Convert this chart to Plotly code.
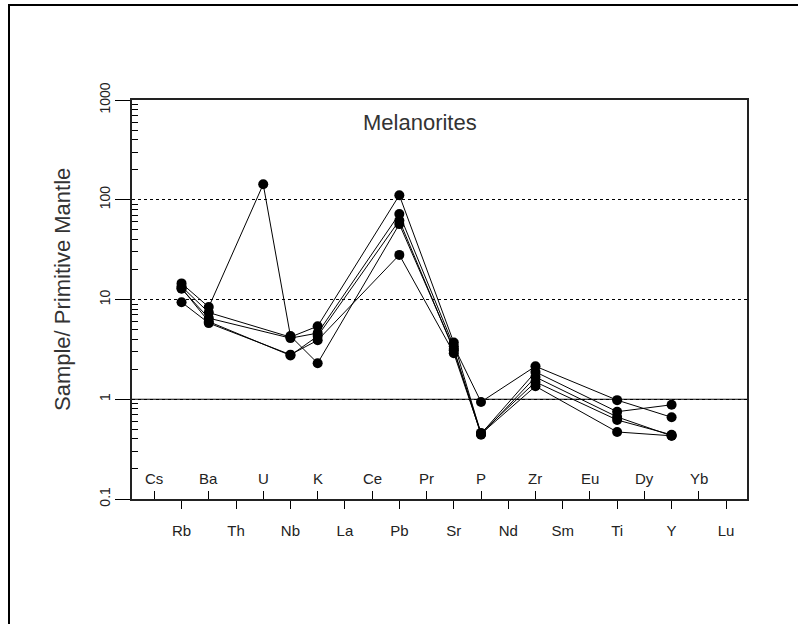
import plotly.graph_objects as go

# Element order along the spider-diagram axis
elements = ["Cs", "Rb", "Ba", "Th", "U", "Nb", "K", "La", "Ce", "Pb", "Pr",
            "Sr", "P", "Nd", "Zr", "Sm", "Eu", "Ti", "Dy", "Y", "Yb", "Lu"]

# Elements that carry analyses
plotted = ["Rb", "Ba", "U", "Nb", "K", "Pb", "Sr", "P", "Zr", "Ti", "Y"]

# Primitive-mantle normalised values (None = not analysed)
sample_1 = [14.5, 8.4, 143, 4.3, 2.3, 57, 3.2, 0.44, 1.67, 0.665, 0.43]
sample_2 = [13.5, 7.4, None, 4.2, 5.4, 111, 3.7, 0.45, 1.88, 0.75, 0.88]
sample_3 = [12.8, 6.5, None, 4.1, 4.6, 72, 3.4, 0.94, 2.14, 0.98, 0.66]
sample_4 = [9.4, 5.8, None, 2.8, 3.9, 28, 2.9, 0.45, 1.35, 0.47, 0.43]
sample_5 = [13.0, 6.0, None, 2.75, 4.3, 62, 3.1, 0.46, 1.49, 0.62, 0.44]
samples = [sample_1, sample_2, sample_3, sample_4, sample_5]

# Labels alternate between a row inside the frame and a row below the axis
upper_row = elements[0::2]
lower_row = elements[1::2]

y_ticks = [0.1, 1, 10, 100, 1000]
y_ticktext = ["0.1", "1", "10", "100", "1000"]
y_minor = [m * 10 ** e for e in range(-1, 3) for m in range(2, 10)]

pos = {el: i for i, el in enumerate(elements)}

fig = go.Figure()
for vals in samples:
    xs = [pos[el] for el, v in zip(plotted, vals) if v is not None]
    ys = [v for v in vals if v is not None]
    fig.add_trace(go.Scatter(
        x=xs, y=ys, mode="lines+markers",
        line=dict(color="black", width=1),
        marker=dict(color="black", size=10, symbol="circle"),
        showlegend=False, hoverinfo="skip",
    ))

W, H = 798, 624
L, R, T, B = 132, 51, 100, 125
pw, ph = W - L - R, H - T - B

label_font = dict(family="Liberation Sans, Arial, sans-serif", size=15, color="#222")

annotations = [
    dict(text=el, x=pos[el], xref="x", y=(499 - 478) / ph, yref="paper",
         showarrow=False, font=label_font, xanchor="center", yanchor="middle")
    for el in upper_row
]
annotations.append(dict(
    text="Melanorites", x=pos["Ce"] + 1.75, xref="x", y=1 - (122 - T) / ph, yref="paper",
    showarrow=False, xanchor="center", yanchor="middle",
    font=dict(family="Liberation Sans, Arial, sans-serif", size=22, color="#333"),
))
annotations.append(dict(
    text="Sample/ Primitive Mantle", textangle=-90,
    x=(62 - L) / pw, xref="paper", y=1 - (290 - T) / ph, yref="paper",
    showarrow=False, xanchor="center", yanchor="middle",
    font=dict(family="Liberation Sans, Arial, sans-serif", size=22, color="#333"),
))

shapes = [
    # solid reference line at unity
    dict(type="line", xref="paper", x0=0, x1=1, yref="y", y0=1, y1=1,
         line=dict(color="black", width=1.2)),
    # outer page frame
    dict(type="rect", xref="paper", yref="paper",
         x0=(9 - L) / pw, x1=1.5, y0=-1.0, y1=1 + (T - 5) / ph,
         line=dict(color="black", width=2), layer="below"),
]

fig.update_layout(
    width=W, height=H,
    margin=dict(l=L, r=R, t=T, b=B),
    paper_bgcolor="white", plot_bgcolor="white",
    annotations=annotations, shapes=shapes,
    xaxis=dict(
        range=[-0.82, 21.77], showgrid=False, zeroline=False,
        tickmode="array", tickvals=[pos[e] for e in lower_row], ticktext=lower_row,
        ticks="outside", ticklen=8, tickwidth=1, tickcolor="black",
        tickfont=dict(family="Liberation Sans Narrow, Arial Narrow, Liberation Sans, sans-serif",
                      size=15, color="#222"),
        ticklabelstandoff=9,
        minor=dict(tickvals=[pos[e] for e in upper_row], ticks="inside",
                   ticklen=8, tickwidth=1, tickcolor="black", showgrid=False),
        showline=True, linecolor="#222", linewidth=1.5, mirror=True,
    ),
    yaxis=dict(
        type="log", range=[-1, 3], zeroline=False,
        tickmode="array", tickvals=y_ticks, ticktext=y_ticktext, tickangle=-90,
        ticks="outside", ticklen=15, tickwidth=1, tickcolor="black",
        tickfont=dict(family="Liberation Sans, Arial, sans-serif", size=14, color="#222"),
        showgrid=True, gridcolor="black", gridwidth=1, griddash="dot",
        minor=dict(tickvals=y_minor, ticks="inside", ticklen=6, tickwidth=1,
                   tickcolor="black", showgrid=False),
        showline=True, linecolor="#222", linewidth=1.5, mirror=True,
    ),
)

fig.write_html("out.html")
